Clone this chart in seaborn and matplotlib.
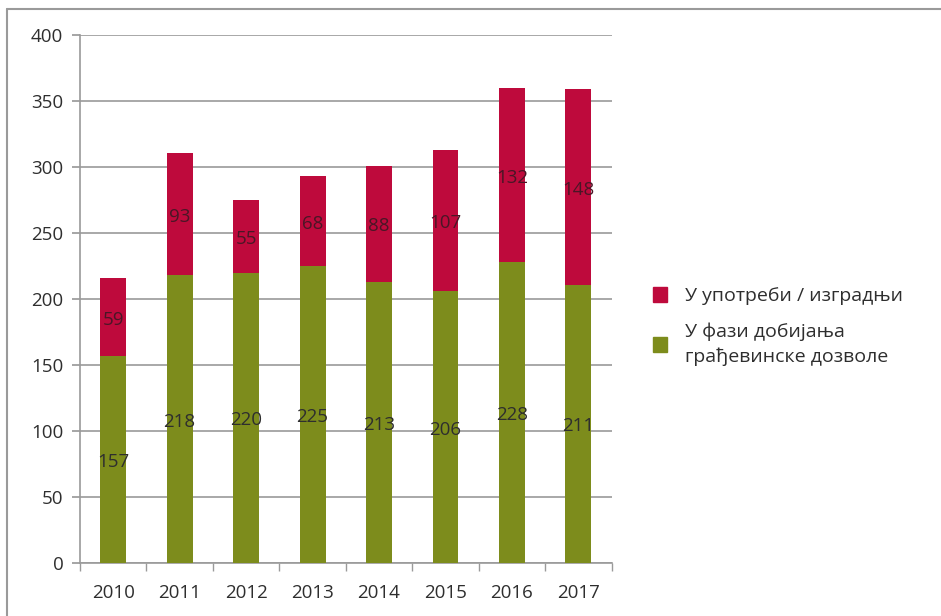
import matplotlib
matplotlib.use("Agg")
import matplotlib.pyplot as plt
import seaborn as sns
import pandas as pd
from matplotlib.patches import Patch

years = ["2010", "2011", "2012", "2013", "2014", "2015", "2016", "2017"]
permit_phase = [157, 218, 220, 225, 213, 206, 228, 211]
in_use = [59, 93, 55, 68, 88, 107, 132, 148]

label_in_use = "У употреби / изградњи"
label_permit = "У фази добијања\nграђевинске дозволе"

red = "#BE0A3C"
green = "#7D8C1C"
text_color = "#2e2e2e"

sns.set_theme(style="white")
plt.rcParams["font.family"] = ["Open Sans", "DejaVu Sans"]

df = pd.DataFrame({
    "year": years,
    "permit": permit_phase,
    "in_use": in_use,
})
df["total"] = df["permit"] + df["in_use"]

fig = plt.figure(figsize=(9.41, 6.16), dpi=100)
ax = fig.add_axes([0.085, 0.086, 0.565, 0.857])

# upper segment drawn as full stack height, lower segment on top of it
sns.barplot(data=df, x="year", y="total", color=red, saturation=1,
            width=0.39, ax=ax, linewidth=0, zorder=3)
sns.barplot(data=df, x="year", y="permit", color=green, saturation=1,
            width=0.39, ax=ax, linewidth=0, zorder=4)

for i, (g, r) in enumerate(zip(permit_phase, in_use)):
    ax.text(i, g / 2 - 2, str(g), ha="center", va="center", fontsize=13.5,
            color=text_color, zorder=5)
    ax.text(i, g + r / 2 - 2, str(r), ha="center", va="center",
            fontsize=13.5, color="#4a1626", zorder=5)

ax.set_ylim(0, 400)
ax.set_xlim(-0.5, len(years) - 0.5)
ax.set_yticks(range(0, 401, 50))
ax.yaxis.grid(True, color="#9a9a9a", linewidth=1.2, zorder=0)
ax.set_axisbelow(True)
ax.set_xlabel("")
ax.set_ylabel("")

for side in ["top", "right"]:
    ax.spines[side].set_visible(False)
for side in ["left", "bottom"]:
    ax.spines[side].set_color("#9a9a9a")
    ax.spines[side].set_linewidth(1.2)

ax.tick_params(axis="y", which="both", left=True, length=6, color="#9a9a9a",
               labelsize=13.5, labelcolor=text_color, pad=6)
ax.set_xticks([i - 0.5 for i in range(len(years) + 1)], minor=True)
ax.tick_params(axis="x", which="major", bottom=False, labelsize=13.5,
               labelcolor=text_color, pad=9)
ax.tick_params(axis="x", which="minor", bottom=True, length=6,
               color="#9a9a9a")

handles = [Patch(color=red, label=label_in_use),
           Patch(color=green, label=label_permit)]
leg = fig.legend(handles=handles, loc="upper left",
                 bbox_to_anchor=(0.675, 0.562), frameon=False, fontsize=14,
                 handlelength=0.75, handleheight=0.75, handletextpad=0.9,
                 labelspacing=0.9, labelcolor=text_color)
for t in leg.get_texts():
    t.set_linespacing(1.4)

# grey frame along the top and left of the figure
fig.add_artist(plt.Line2D([0.007, 1.0], [0.985, 0.985], color="#9a9a9a",
                          linewidth=1.5, transform=fig.transFigure))
fig.add_artist(plt.Line2D([0.007, 0.007], [0.0, 0.985], color="#9a9a9a",
                          linewidth=1.5, transform=fig.transFigure))

fig.savefig("out.png", dpi=100)
